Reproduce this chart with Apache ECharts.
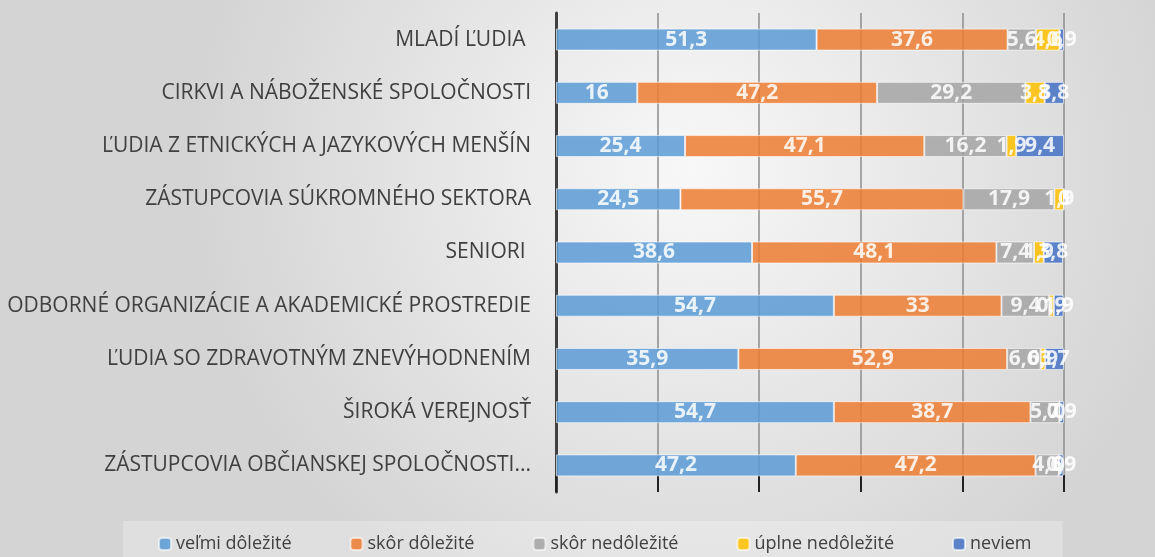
<!DOCTYPE html>
<html>
<head>
<meta charset="utf-8">
<script src="https://cdn.jsdelivr.net/npm/echarts@6/dist/echarts.min.js"></script>
<style>
  html, body { margin: 0; padding: 0; }
  #chart { width: 1155px; height: 557px; }
</style>
</head>
<body>
<div id="chart"></div>
<script>
// categories, top to bottom as in the picture
const categories = [
    'MLADÍ ĽUDIA ',
    'CIRKVI A NÁBOŽENSKÉ SPOLOČNOSTI',
    'ĽUDIA Z ETNICKÝCH A JAZYKOVÝCH MENŠÍN',
    'ZÁSTUPCOVIA SÚKROMNÉHO SEKTORA',
    'SENIORI ',
    'ODBORNÉ ORGANIZÁCIE A AKADEMICKÉ PROSTREDIE',
    'ĽUDIA SO ZDRAVOTNÝM ZNEVÝHODNENÍM',
    'ŠIROKÁ VEREJNOSŤ',
    'ZÁSTUPCOVIA OBČIANSKEJ SPOLOČNOSTI...'
];
const seriesNames = ['veľmi dôležité', 'skôr dôležité', 'skôr nedôležité', 'úplne nedôležité', 'neviem'];
const velmiDolezite   = [51.3, 16,   25.4, 24.5, 38.6, 54.7, 35.9, 54.7, 47.2];
const skorDolezite    = [37.6, 47.2, 47.1, 55.7, 48.1, 33,   52.9, 38.7, 47.2];
const skorNedolezite  = [5.6,  29.2, 16.2, 17.9, 7.4,  9.4,  6.6,  5.7,  4.6];
const uplneNedolezite = [4.6,  3.8,  1.9,  1.9,  1.9,  0.9,  0.9,  0,    0];
const neviem          = [0.9,  3.8,  9.4,  0,    3.8,  1.9,  3.7,  0.9,  0.9];
const colors = ['#5b9bd5', '#ed7d31', '#a5a5a5', '#ffc000', '#4472c4'];

const values = [velmiDolezite, skorDolezite, skorNedolezite, uplneNedolezite, neviem];
const fontName = '"Open Sans", "Noto Sans", sans-serif';

const chart = echarts.init(document.getElementById('chart'));
chart.setOption({
    backgroundColor: {
        type: 'radial', x: 0.6, y: 0.3, r: 0.9,
        colorStops: [
            { offset: 0, color: '#f8f8f8' },
            { offset: 1, color: '#d4d4d4' }
        ]
    },
    animation: false,
    grid: { left: 556, right: 91, top: 13, bottom: 65 },
    legend: {
        bottom: -10,
        left: 123,
        itemWidth: 12,
        itemHeight: 12,
        itemGap: 58,
        padding: [14, 31, 14, 35],
        backgroundColor: 'rgba(255,255,255,0.25)',
        textStyle: { color: '#404040', fontSize: 18, fontFamily: fontName },
        data: seriesNames
    },
    xAxis: {
        type: 'value',
        min: 0,
        max: 100,
        interval: 20,
        axisLabel: { show: false },
        axisLine: { show: false },
        axisTick: { show: true, inside: true, length: 17, lineStyle: { color: '#222', width: 2 } },
        splitLine: { lineStyle: { color: '#8c8c8c', width: 1.5 } }
    },
    yAxis: {
        type: 'category',
        inverse: true,
        data: categories,
        axisLine: { lineStyle: { color: '#404040', width: 3 } },
        axisTick: { show: false },
        axisLabel: { color: '#404040', fontSize: 21, fontFamily: fontName, margin: 25 }
    },
    series: seriesNames.map((name, i) => ({
        name: name,
        type: 'bar',
        stack: 'total',
        barWidth: 22,
        data: values[i],
        itemStyle: { color: colors[i], opacity: 0.85, borderColor: 'rgba(255,255,255,0.7)', borderWidth: 1 },
        label: {
            show: true,
            position: 'inside',
            color: '#fff',
            fontSize: 21,
            fontWeight: 'bold',
            fontFamily: fontName,
            formatter: p => String(p.value).replace('.', ',')
        }
    }))
});
</script>
</body>
</html>
